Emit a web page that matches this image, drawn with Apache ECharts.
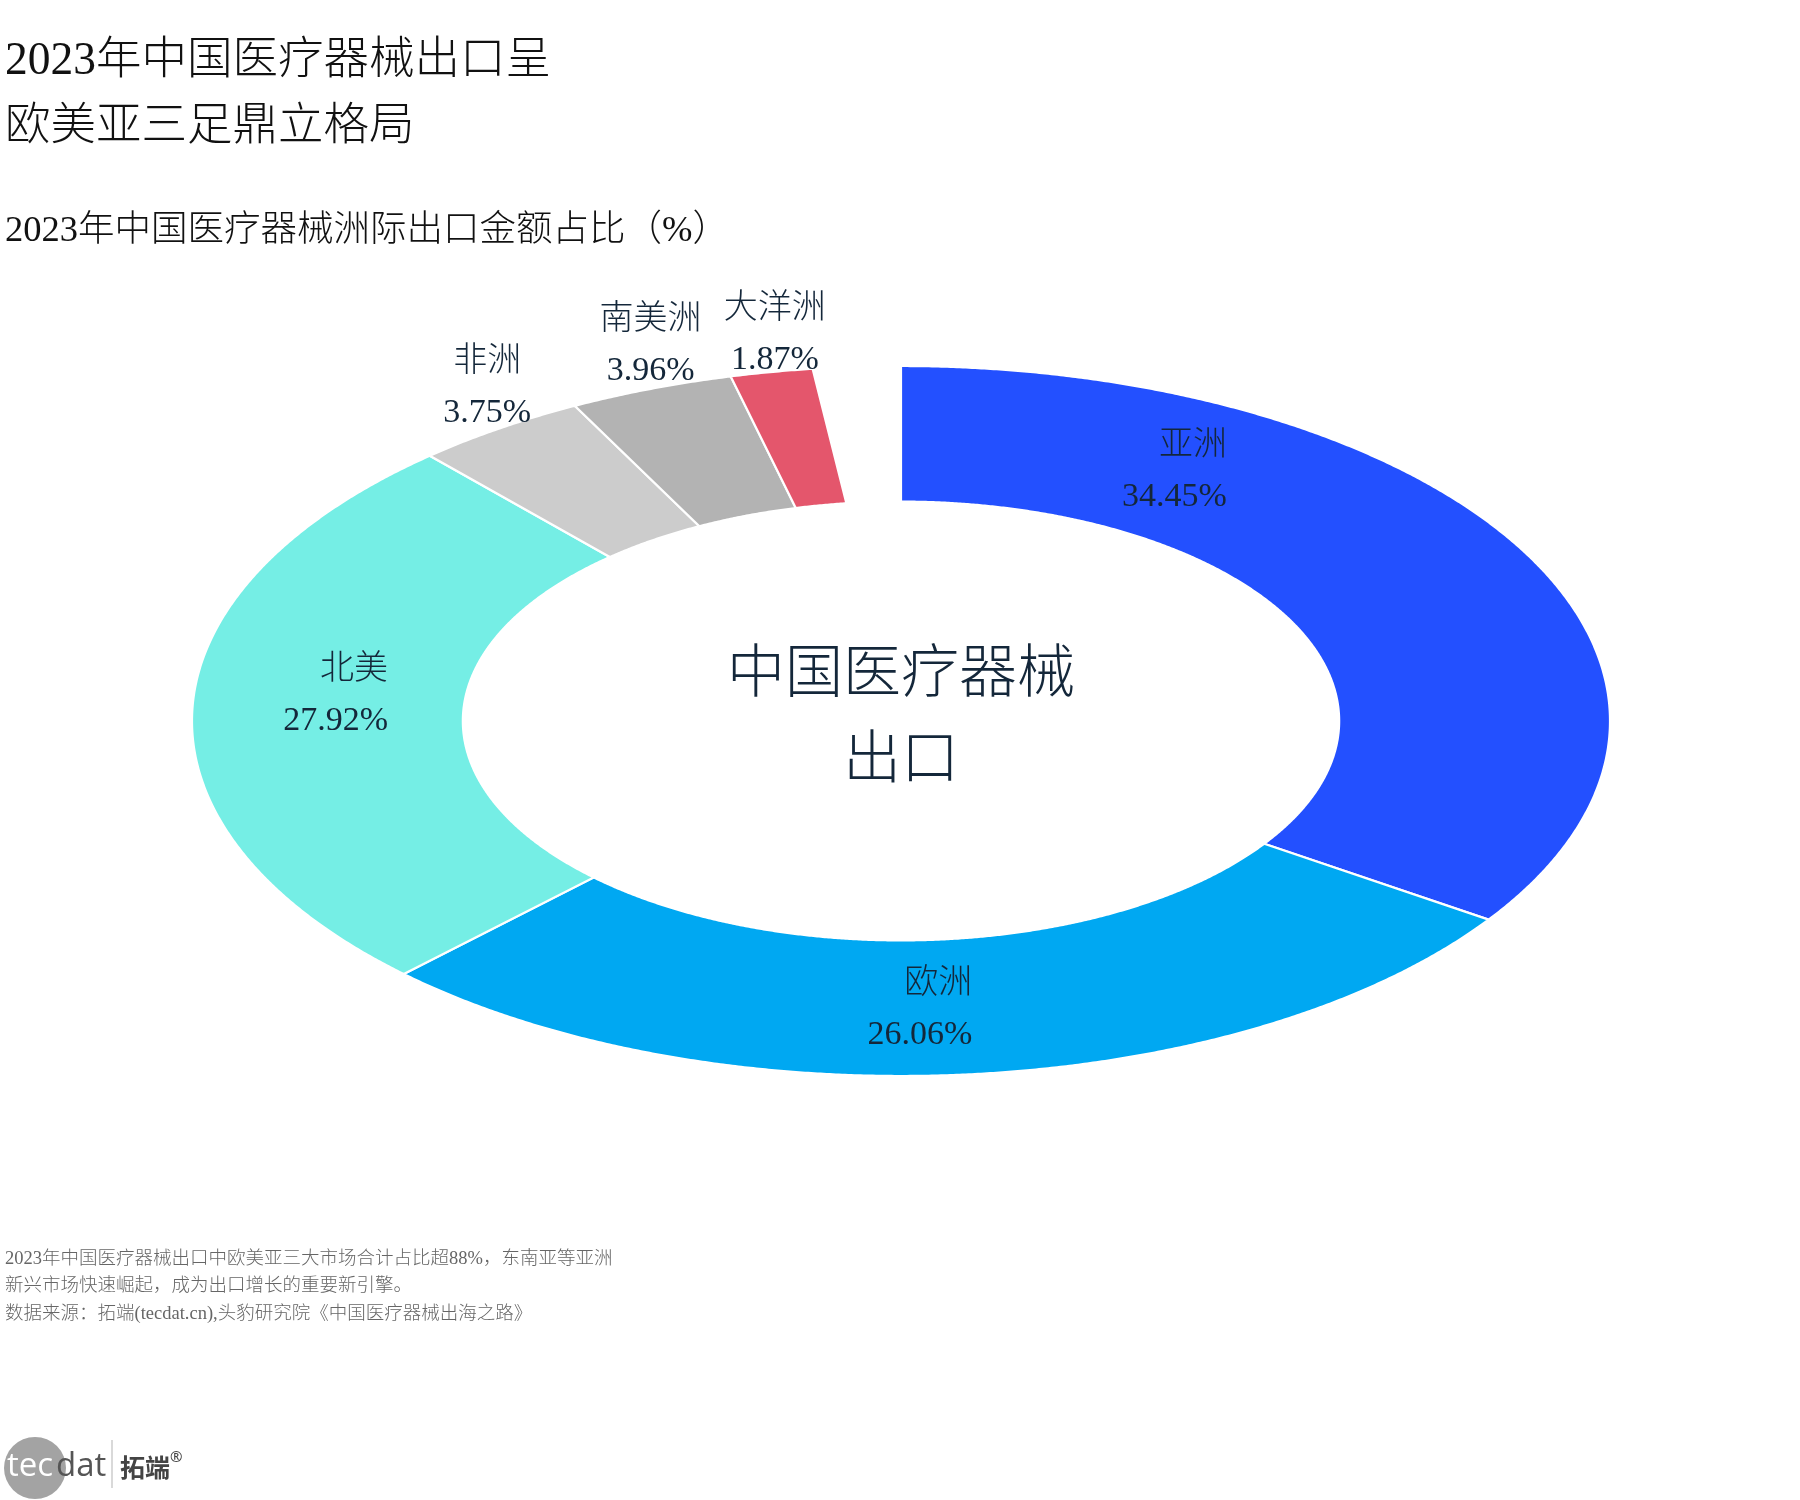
<!DOCTYPE html>
<html>
<head>
<meta charset="utf-8">
<title>2023年中国医疗器械出口</title>
<script src="https://cdn.jsdelivr.net/npm/echarts@6/dist/echarts.min.js"></script>
<style>
  html, body { margin: 0; padding: 0; background: #fff; }
  #main { width: 1800px; height: 1500px; }
</style>
</head>
<body>
<div id="main"></div>
<script>
// data
var regions = ['亚洲', '欧洲', '北美', '非洲', '南美洲', '大洋洲'];
var shares = [34.45, 26.06, 27.92, 3.75, 3.96, 1.87];
var total = 100;

// styling
var sliceColors = ['#2350FF', '#00A8F2', '#75EEE5', '#CCCCCC', '#B3B3B3', '#E4566C'];
// label placement: [angle from 12 o'clock in degrees, radius in units of outer radius]
var labelPlace = {
    '亚洲': [29, 0.816],
    '欧洲': [177.4, 0.804],
    '北美': [276, 0.792],
    '非洲': [328.4, 1.114],
    '南美洲': [341.7, 1.125],
    '大洋洲': [350.8, 1.113]
};
var innerRatio = 0.618;
var fontFamily = '"Liberation Serif", "Noto Sans CJK SC", serif';
var textColor = '#14273a';

// the arcs in the source picture are laid out by rank of share (largest first),
// while colours and labels follow the region order
var arcShares = shares.slice().sort(function (a, b) { return b - a; });
var sliceData = [];
var acc = 0;
arcShares.forEach(function (v, i) {
    sliceData.push({ name: regions[i], value: [acc, acc + v, shares[i]] });
    acc += v;
});

function renderSlice(params, api) {
    var a0 = api.value(0) / total * Math.PI * 2;
    var a1 = api.value(1) / total * Math.PI * 2;
    var v = api.value(2);
    var name = regions[params.dataIndex];
    var step = Math.PI / 720;
    var pts = [];
    var a;
    for (a = a0; a < a1; a += step) {
        pts.push(api.coord([Math.sin(a), Math.cos(a)]));
    }
    pts.push(api.coord([Math.sin(a1), Math.cos(a1)]));
    for (a = a1; a > a0; a -= step) {
        pts.push(api.coord([innerRatio * Math.sin(a), innerRatio * Math.cos(a)]));
    }
    pts.push(api.coord([innerRatio * Math.sin(a0), innerRatio * Math.cos(a0)]));

    var lp = labelPlace[name];
    var la = lp[0] / 180 * Math.PI;
    var anchor = api.coord([lp[1] * Math.sin(la), lp[1] * Math.cos(la)]);
    var inner = lp[1] < 1;
    var lineAlign = inner ? 'right' : 'center';

    return {
        type: 'group',
        children: [
            {
                type: 'polygon',
                shape: { points: pts },
                style: { fill: sliceColors[params.dataIndex], stroke: '#fff', lineWidth: 2.2 }
            },
            {
                type: 'text',
                z2: 100,
                x: anchor[0] + (inner ? -7 : 0),
                y: anchor[1] + 3.5,
                style: {
                    text: '{n|' + name + '}\n{v|' + v.toFixed(2) + '%}',
                    align: 'center',
                    verticalAlign: 'middle',
                    fill: textColor,
                    rich: {
                        n: { fontSize: 34, lineHeight: 51, fontWeight: 300, fontFamily: fontFamily, fill: textColor, align: lineAlign },
                        v: { fontSize: 34, lineHeight: 51, fontWeight: 300, fontFamily: fontFamily, fill: textColor, align: lineAlign }
                    }
                }
            }
        ]
    };
}

var option = {
    backgroundColor: '#fff',
    animation: false,
    title: [
        {
            text: '2023年中国医疗器械出口呈\n欧美亚三足鼎立格局',
            left: 0,
            top: 24,
            textStyle: { fontSize: 45.5, lineHeight: 66, fontWeight: 300, color: '#111', fontFamily: fontFamily }
        },
        {
            text: '2023年中国医疗器械洲际出口金额占比（%）',
            left: 0,
            top: 206,
            textStyle: { fontSize: 36.5, lineHeight: 40, fontWeight: 300, color: '#111', fontFamily: fontFamily }
        },
        {
            text: '2023年中国医疗器械出口中欧美亚三大市场合计占比超88%，东南亚等亚洲\n新兴市场快速崛起，成为出口增长的重要新引擎。\n数据来源：拓端(tecdat.cn),头豹研究院《中国医疗器械出海之路》',
            left: 0,
            top: 1240,
            textStyle: { fontSize: 18.5, lineHeight: 27.5, fontWeight: 300, color: '#666', fontFamily: fontFamily }
        }
    ],
    grid: { left: 192, top: 366, width: 1418, height: 710 },
    xAxis: { type: 'value', min: -1, max: 1, show: false },
    yAxis: { type: 'value', min: -1, max: 1, show: false },
    series: [
        {
            type: 'custom',
            renderItem: renderSlice,
            data: sliceData,
            silent: true
        }
    ],
    graphic: [
        {
            type: 'text',
            x: 901,
            y: 720,
            style: {
                text: '中国医疗器械\n出口',
                font: '300 58px ' + fontFamily,
                lineHeight: 86,
                align: 'center',
                verticalAlign: 'middle',
                fill: textColor
            }
        },
        {
            type: 'circle',
            shape: { cx: 35, cy: 1468, r: 31 },
            style: { fill: '#a3a3a3' }
        },
        {
            type: 'text',
            x: 7,
            y: 1467,
            style: { text: 'tec', font: '33px "Open Sans", sans-serif', fill: '#fff', verticalAlign: 'middle' }
        },
        {
            type: 'text',
            x: 56,
            y: 1467,
            style: { text: 'dat', font: '33px "Open Sans", sans-serif', fill: '#555', verticalAlign: 'middle' }
        },
        {
            type: 'line',
            shape: { x1: 112, y1: 1440, x2: 112, y2: 1488 },
            style: { stroke: '#cccccc', lineWidth: 1.5 }
        },
        {
            type: 'text',
            x: 120,
            y: 1467,
            style: { text: '拓端', font: 'bold 25px "Noto Sans CJK SC", sans-serif', fill: '#444', verticalAlign: 'middle' }
        },
        {
            type: 'text',
            x: 170,
            y: 1458,
            style: { text: '®', font: '15px "Noto Sans", sans-serif', fill: '#444', verticalAlign: 'middle' }
        }
    ]
};

var chartDom = document.getElementById('main');
var myChart = echarts.init(chartDom);
myChart.setOption(option);
</script>
</body>
</html>
